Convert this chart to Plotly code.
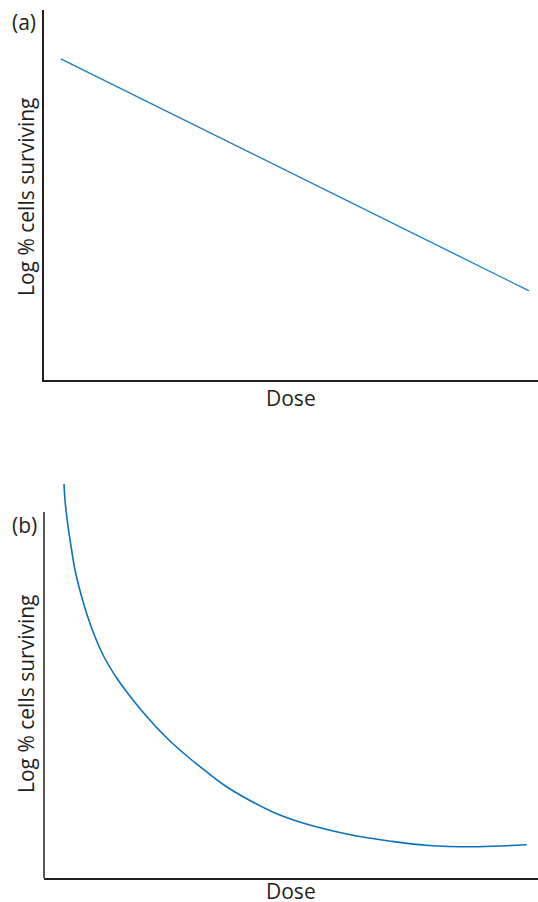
import plotly.graph_objects as go

W, H = 538, 902

# Panel (a): straight line (arbitrary units 0-100)
dose_a = [3.5, 98.2]
logsurv_a = [86.8, 24.1]

# Panel (b): curve (arbitrary units 0-100)
dose_b = [4.05, 4.25, 4.70, 5.59, 6.28, 7.25, 8.60, 10.34, 12.17, 14.72, 16.46, 20.18,
          24.66, 29.41, 32.96, 37.04, 41.50, 46.76, 52.43, 60.32, 65.79, 69.84, 77.94,
          86.84, 93.66, 97.71]
logsurv_b = [99.75, 95.70, 90.63, 83.04, 77.97, 72.91, 67.09, 61.01, 55.95, 50.63, 47.59,
             41.77, 35.70, 30.38, 26.84, 23.04, 19.75, 16.46, 13.92, 11.39, 10.13, 9.37,
             8.23, 7.92, 8.18, 8.43]

panel_labels = ["(a)", "(b)"]
x_title = "Dose"
y_title = "Log % cells surviving"


def px_x(p):
    return p / W


def px_y(p):
    return 1 - p / H


AXIS_COLOR = "#231f20"
LINE_COLOR = "#0a72bd"
FONT = "Open Sans"
FS = 21

fig = go.Figure()
fig.add_trace(go.Scatter(x=dose_a, y=logsurv_a, mode="lines",
                         line=dict(color="#1a7ec4", width=1.3),
                         xaxis="x", yaxis="y", showlegend=False, hoverinfo="skip"))
fig.add_trace(go.Scatter(x=dose_b, y=logsurv_b, mode="lines",
                         line=dict(color=LINE_COLOR, width=1.6, shape="spline", smoothing=1.0),
                         xaxis="x2", yaxis="y2", showlegend=False, hoverinfo="skip"))

ax_common = dict(showgrid=False, zeroline=False, showticklabels=False, ticks="",
                 fixedrange=True)

# panel b axis pixel positions
b_top_curve = 483
b_top_axis = 512
b_bottom = 878
b_axis_top_val = (b_bottom - b_top_axis) / (b_bottom - b_top_curve) * 100

fig.update_layout(
    width=W, height=H,
    margin=dict(l=0, r=0, t=0, b=0),
    paper_bgcolor="white", plot_bgcolor="white",
    xaxis=dict(domain=[px_x(43.5), 1], range=[0, 100], anchor="y",
               showline=True, linecolor=AXIS_COLOR, linewidth=1.5, **ax_common),
    yaxis=dict(domain=[px_y(380), px_y(10)], range=[0, 100], anchor="x",
               showline=True, linecolor=AXIS_COLOR, linewidth=1.5, **ax_common),
    xaxis2=dict(domain=[px_x(44), 1], range=[0, 100], anchor="y2",
                showline=True, linecolor=AXIS_COLOR, linewidth=1.5, **ax_common),
    yaxis2=dict(domain=[px_y(b_bottom), px_y(b_top_curve)], range=[0, 100], anchor="x2",
                showline=False, **ax_common),
    shapes=[dict(type="line", xref="x2 domain", yref="y2", x0=0, x1=0,
                 y0=0, y1=b_axis_top_val, line=dict(color=AXIS_COLOR, width=1.5))],
    font=dict(family=FONT, color=AXIS_COLOR),
)

annos = [
    dict(text=panel_labels[0], x=px_x(24), y=px_y(22)),
    dict(text=panel_labels[1], x=px_x(24), y=px_y(525)),
    dict(text=x_title, x=px_x(290.5), y=px_y(398)),
    dict(text=x_title, x=px_x(291), y=px_y(891)),
    dict(text=y_title, x=px_x(26), y=px_y(197), textangle=-90),
    dict(text=y_title, x=px_x(26), y=px_y(694), textangle=-90),
]
for a in annos:
    fig.add_annotation(xref="paper", yref="paper", showarrow=False,
                       xanchor="center", yanchor="middle",
                       font=dict(family=FONT, size=FS, color=AXIS_COLOR), **a)

fig.write_html("out.html", config={"displayModeBar": False},
               post_script="document.body.style.margin='0px';")
